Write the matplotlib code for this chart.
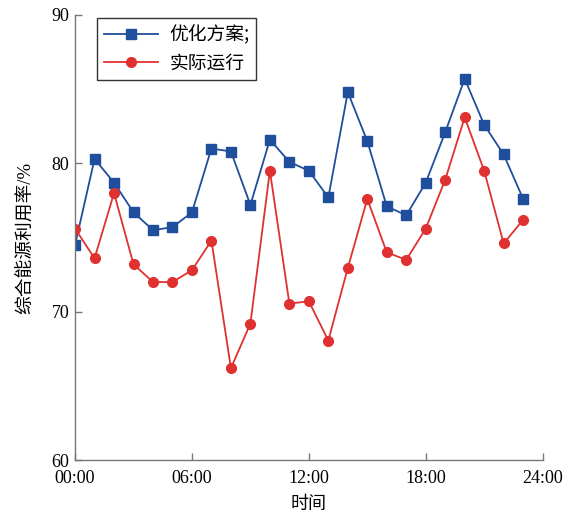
import matplotlib
matplotlib.use("Agg")
import matplotlib.pyplot as plt

hours = list(range(24))
optimized = [74.5, 80.3, 78.7, 76.7, 75.5, 75.7, 76.7, 81.0, 80.8, 77.2, 81.6, 80.1,
             79.5, 77.7, 84.8, 81.5, 77.1, 76.5, 78.7, 82.1, 85.7, 82.6, 80.6, 77.6]
actual = [75.6, 73.6, 78.0, 73.2, 72.0, 72.0, 72.8, 74.8, 66.2, 69.2, 79.5, 70.55,
          70.7, 68.06, 72.95, 77.6, 74.0, 73.5, 75.6, 78.9, 83.1, 79.5, 74.6, 76.2]
xticks = [0, 6, 12, 18, 24]
xticklabels = ["00:00", "06:00", "12:00", "18:00", "24:00"]
yticks = [60, 70, 80, 90]

serif = ["Liberation Serif", "Noto Sans CJK SC"]
cjk = ["Noto Sans CJK SC", "DejaVu Sans"]

fig = plt.figure(figsize=(5.73, 5.17), dpi=100)
ax = fig.add_axes([0.131, 0.110, 0.816, 0.861])

blue = "#1f4e9c"
red = "#e03131"
ax.plot(hours, optimized, color=blue, lw=1.3, marker="s", ms=7, label="优化方案;")
ax.plot(hours, actual, color=red, lw=1.3, marker="o", ms=7, label="实际运行")

ax.set_xlim(0, 24)
ax.set_ylim(60, 90)
ax.set_xticks(xticks)
ax.set_xticklabels(xticklabels, fontfamily="Liberation Serif", fontsize=13)
ax.set_yticks(yticks)
ax.set_yticklabels([str(v) for v in yticks], fontfamily="Liberation Serif", fontsize=13,
                   va="center_baseline")

for s in ["top", "right"]:
    ax.spines[s].set_visible(False)
for s in ["left", "bottom"]:
    ax.spines[s].set_color("#777777")
    ax.spines[s].set_linewidth(1.0)
ax.tick_params(direction="in", length=5, color="#777777", width=1.0)
ax.tick_params(axis="x", pad=7)
ax.tick_params(axis="y", pad=4)

ax.set_xlabel("时间", fontfamily=cjk, fontsize=13, labelpad=6)
ax.set_ylabel("综合能源利用率/%", fontfamily=serif, fontsize=13.5, labelpad=12)

leg = ax.legend(loc="upper left", bbox_to_anchor=(0.047, 0.993), borderaxespad=0,
                prop={"family": cjk, "size": 13.5},
                frameon=True, fancybox=False, edgecolor="#333333", framealpha=1,
                handlelength=2.9, borderpad=0.35, labelspacing=0.35, handletextpad=0.6)
leg.get_frame().set_linewidth(1.0)

fig.savefig("out.png", dpi=100)
